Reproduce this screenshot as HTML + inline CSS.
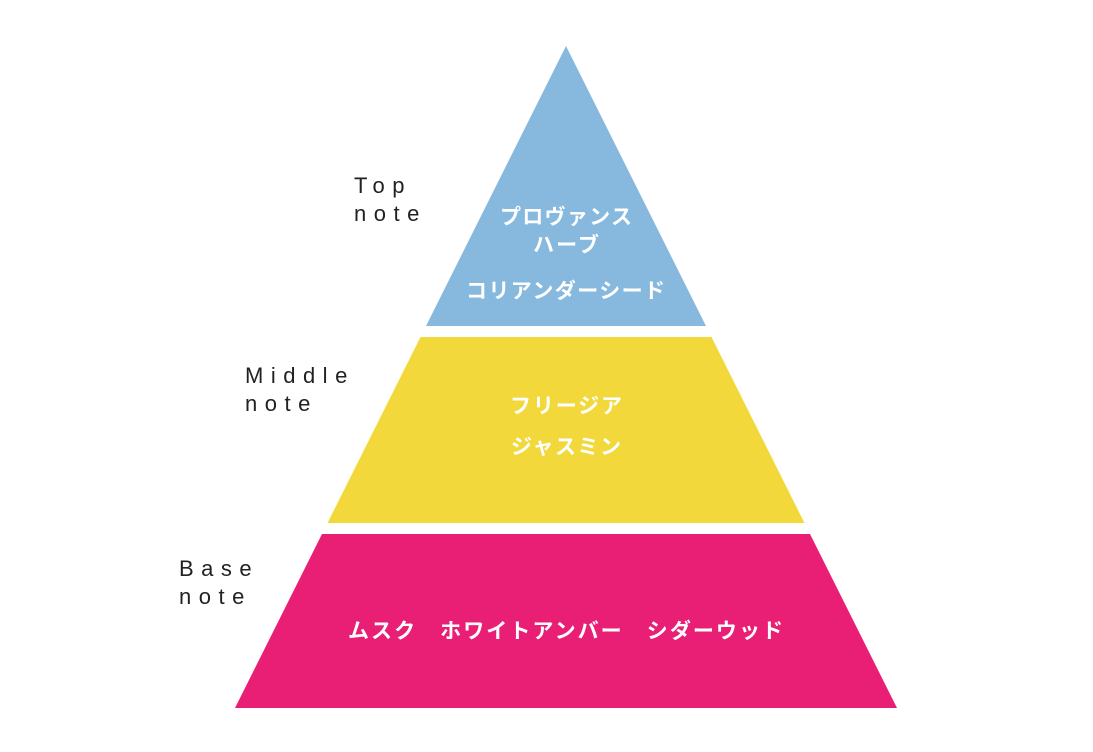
<!DOCTYPE html>
<html><head><meta charset="utf-8"><style>
html,body{margin:0;padding:0;background:#fff;}
svg{display:block;}
.lab{font-family:"Liberation Sans",sans-serif;font-size:22px;fill:#222;letter-spacing:7.5px;}
.jp{font-family:"Liberation Sans","Noto Sans CJK JP",sans-serif;font-size:21px;font-weight:bold;fill:#fff;}
</style></head><body>
<svg width="1093" height="752" viewBox="0 0 1093 752" xmlns="http://www.w3.org/2000/svg">
<rect width="1093" height="752" fill="#fff"/>
<polygon points="566,46 706,326 426,326" fill="#87b8de"/>
<polygon points="420.5,337 711.5,337 804.5,523 327.5,523" fill="#f3d83b"/>
<polygon points="322,534 810,534 897,708 235,708" fill="#e81f74"/>
<text class="lab" x="354" y="193">Top</text>
<text class="lab" x="354" y="221">note</text>
<text class="lab" x="245" y="383">Middle</text>
<text class="lab" x="245" y="411">note</text>
<text class="lab" x="179" y="576">Base</text>
<text class="lab" x="179" y="604">note</text>
<g class="jp">
<text x="500" y="224" textLength="132" lengthAdjust="spacing">プロヴァンス</text>
<text x="533" y="252" textLength="66" lengthAdjust="spacing">ハーブ</text>
<text x="466" y="298" textLength="199" lengthAdjust="spacing">コリアンダーシード</text>
<text x="510" y="413" textLength="112" lengthAdjust="spacing">フリージア</text>
<text x="511" y="454" textLength="110" lengthAdjust="spacing">ジャスミン</text>
<text x="348" y="638" textLength="435" lengthAdjust="spacing">ムスク　ホワイトアンバー　シダーウッド</text>
</g>
</svg>
</body></html>
